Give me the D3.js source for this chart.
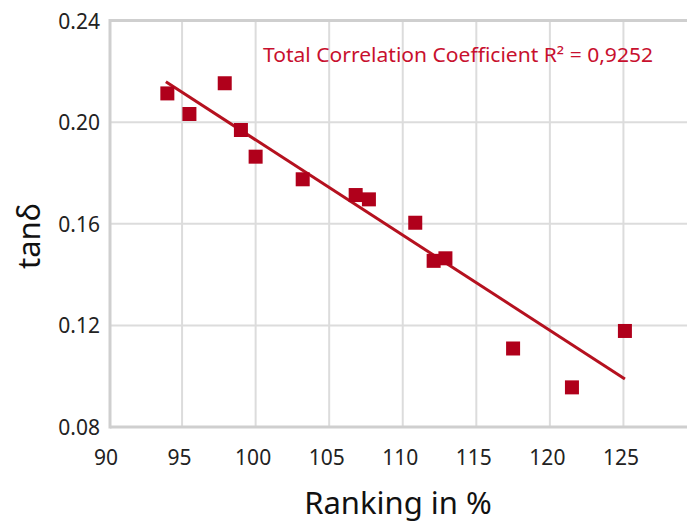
<!DOCTYPE html>
<html>
<head>
<meta charset="utf-8">
<script src="https://cdn.jsdelivr.net/npm/d3@7"></script>
<style>
  html, body { margin: 0; padding: 0; background: #fff; }
  svg { display: block; font-family: "Noto Sans", "Open Sans", sans-serif; }
</style>
</head>
<body>
<svg id="chart" width="687" height="522"></svg>
<script>
// Data
const ranking = [94.0, 95.5, 97.9, 99.0, 100.0, 103.2, 106.8, 107.7, 110.85, 112.1, 112.9, 117.5, 121.5, 125.1];
const tanDelta = [0.2113, 0.2032, 0.2153, 0.1969, 0.1864, 0.1775, 0.1713, 0.1696, 0.1604, 0.1454, 0.1464, 0.1109, 0.0956, 0.1178];
const trendX = [93.9, 125.1];
const trendY = [0.2159, 0.0989];
const xTicks = [90, 95, 100, 105, 110, 115, 120, 125];
const yTicks = [0.08, 0.12, 0.16, 0.20, 0.24];
const xLabel = "Ranking in %";
const yLabel = "tanδ";
const annotation = "Total Correlation Coefficient R² = 0,9252";

(function () {
const svg = d3.select("#chart");
const plotLeft = 110, plotTop = 20.5, plotBottom = 427, plotRight = 697;

const x = d3.scaleLinear().domain([90, 130]).range([108.5, plotRight]);
const y = d3.scaleLinear().domain([0.08, 0.24]).range([plotBottom, plotTop]);

const gridColor = "#dcdcdc";
const borderColor = "#cfcfcf";

// vertical gridlines
svg.append("g").selectAll("line").data(xTicks.filter(d => d > 90)).join("line")
  .attr("x1", d => x(d)).attr("x2", d => x(d))
  .attr("y1", plotTop).attr("y2", plotBottom)
  .attr("stroke", gridColor).attr("stroke-width", 2);

// horizontal gridlines
svg.append("g").selectAll("line").data(yTicks.filter(d => d > 0.08 && d < 0.24)).join("line")
  .attr("x1", plotLeft).attr("x2", 687)
  .attr("y1", d => y(d)).attr("y2", d => y(d))
  .attr("stroke", gridColor).attr("stroke-width", 2);

// borders (left, top, bottom)
svg.append("line").attr("x1", plotLeft).attr("x2", 687).attr("y1", y(0.24)).attr("y2", y(0.24))
  .attr("stroke", borderColor).attr("stroke-width", 3);
svg.append("line").attr("x1", plotLeft).attr("x2", 687).attr("y1", y(0.08)).attr("y2", y(0.08))
  .attr("stroke", borderColor).attr("stroke-width", 3);
svg.append("line").attr("x1", plotLeft).attr("x2", plotLeft).attr("y1", y(0.24) - 1.5).attr("y2", y(0.08) + 1.5)
  .attr("stroke", borderColor).attr("stroke-width", 3);

// axes via d3 axis generators (labels only)
const xAxis = d3.axisBottom(x).tickValues(xTicks).tickFormat(d3.format("d")).tickSize(0).tickPadding(0);
const gx = svg.append("g").attr("transform", `translate(0,${plotBottom})`).call(xAxis);
gx.select(".domain").remove();
gx.selectAll("text").attr("font-size", 21).attr("fill", "#222")
  .attr("dy", null).attr("y", 38).attr("dx", -3)
  .attr("font-family", "'Noto Sans', sans-serif");

const yAxis = d3.axisLeft(y).tickValues(yTicks).tickFormat(d3.format(".2f")).tickSize(0).tickPadding(0);
const gy = svg.append("g").attr("transform", `translate(${plotLeft},0)`).call(yAxis);
gy.select(".domain").remove();
gy.selectAll("text").attr("font-size", 21).attr("fill", "#222")
  .attr("x", -10).attr("dy", "0.36em")
  .attr("font-family", "'Noto Sans', sans-serif");

// trend line
svg.append("path")
  .datum(trendX.map((d, i) => [d, trendY[i]]))
  .attr("d", d3.line().x(d => x(d[0])).y(d => y(d[1])))
  .attr("fill", "none").attr("stroke", "#b5111f").attr("stroke-width", 3);

// points
const s = 14;
svg.append("g").selectAll("rect").data(ranking.map((d, i) => [d, tanDelta[i]])).join("rect")
  .attr("x", d => x(d[0]) - s / 2).attr("y", d => y(d[1]) - s / 2)
  .attr("width", s).attr("height", s)
  .attr("fill", "#b0001b");

// annotation
svg.append("text").attr("x", 263).attr("y", 62)
  .attr("font-size", 19).attr("fill", "#c8102e")
  .attr("textLength", 390).attr("lengthAdjust", "spacingAndGlyphs")
  .text(annotation);

// axis titles
svg.append("text").attr("x", 398).attr("y", 514).attr("text-anchor", "middle")
  .attr("font-size", 31).attr("fill", "#111").text(xLabel);
svg.append("text").attr("transform", "translate(40,236) rotate(-90)")
  .attr("text-anchor", "middle").attr("font-size", 31).attr("fill", "#111").text(yLabel);
})();
</script>
</body>
</html>
